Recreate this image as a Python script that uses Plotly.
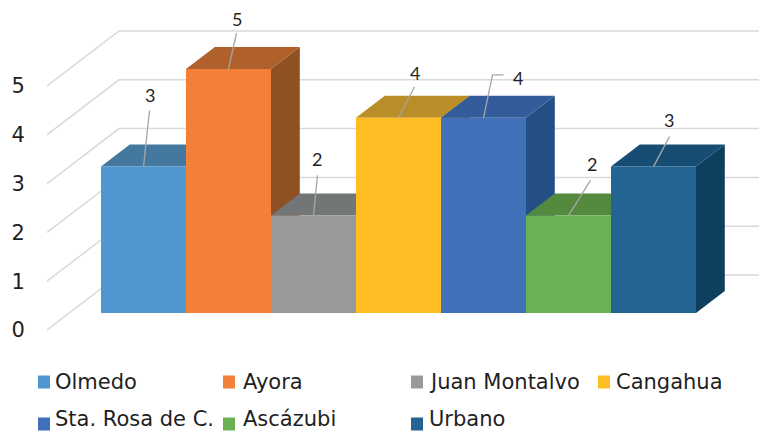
"""
Pseudo-3D column chart: the oblique projection is done here, the faces go
through Plotly's axes as filled scatter polygons and a bar trace.
"""

import plotly.graph_objects as go

CATEGORIES = ["Olmedo", "Ayora", "Juan Montalvo", "Cangahua", "Sta. Rosa de C.", "Ascázubi", "Urbano"]
VALUES = [3, 5, 2, 4, 4, 2, 3]
TICKS = [0, 1, 2, 3, 4, 5]

FRONT_COLORS = ["#5097D2", "#F28039", "#989A9A", "#FFBD24", "#4171B8", "#6CB155", "#246493"]
TOP_COLORS = ["#44789F", "#B0602B", "#737677", "#B98E28", "#335C9A", "#548A40", "#174D72"]
SIDE_COLORS = ["#3A6A90", "#8F5023", "#636566", "#96741F", "#234F86", "#47753A", "#0E3F5F"]

GRID_COLOR = "#D9D9D9"
LEADER_COLOR = "#A6A6A6"
TEXT_COLOR = "#1F1F1F"
TICK_FONT = "DejaVu Sans, Arial, sans-serif"
LABEL_FONT = "Lato, Arial, sans-serif"

# The page keeps an 8 px body margin, so the figure is that much smaller
PAGE_MARGIN = 8
WIDTH, HEIGHT = 767 - PAGE_MARGIN, 432 - PAGE_MARGIN
PLOT_LEFT = 47
PX_PER_CAT = 85
PX_PER_UNIT = 48.8
ORIGIN_PX = (78.75, 330)  # left edge of category 0 and value 0, depth 0
WALL_DX, WALL_DY = 72, 55  # floor depth in px
BAR_D0, BAR_D1 = 17 / 55, 39 / 55

# Pixel offsets from the middle of each bar's front top edge
LEADER_PATHS = [
    [(0, 0), (6, -56)],
    [(0, 0), (8, -36)],
    [(0, 0), (4, -40)],
    [(0, 0), (16, -31)],
    [(0, 0), (9, -43), (20, -43)],
    [(0, 0), (22, -35)],
    [(0, 0), (16, -30)],
]
LABEL_OFFSETS = [(6, -72), (8, -50), (3, -56), (16, -45), (34, -40), (23, -51), (15, -47)]

# Legend layout in page pixels: swatch left, text left, row centre
LEGEND_SLOTS = [(38, 53, 382), (223, 241, 382), (411, 427, 382), (598, 614, 382),
                (38, 53, 419), (223, 241, 419), (411, 427, 419)]


def x_from_px(px):
    return (px - ORIGIN_PX[0]) / PX_PER_CAT - 0.5


def y_from_px(py):
    return (ORIGIN_PX[1] - py) / PX_PER_UNIT


def paper_x(px):
    return (px - PLOT_LEFT) / (767 - PLOT_LEFT)


def project(x, v, depth):
    return x + depth * WALL_DX / PX_PER_CAT, v + depth * WALL_DY / PX_PER_UNIT


def polygon(points, color, yaxis="y"):
    return go.Scatter(
        x=[p[0] for p in points],
        y=[p[1] for p in points],
        mode="lines",
        fill="toself",
        fillcolor=color,
        line=dict(width=0, color=color),
        hoverinfo="skip",
        showlegend=False,
        yaxis=yaxis,
    )


fig = go.Figure()

# Grid on the side wall and the back wall
x_left = x_from_px(PLOT_LEFT)
x_right = x_from_px(790)
for tick in TICKS:
    pts = [project(x_left, tick, 0), project(x_left, tick, 1), (x_right, project(x_left, tick, 1)[1])]
    fig.add_trace(
        go.Scatter(
            x=[p[0] for p in pts],
            y=[p[1] for p in pts],
            mode="lines",
            line=dict(color=GRID_COLOR, width=1.5),
            hoverinfo="skip",
            showlegend=False,
        )
    )

# Side and top faces, left to right
for i, value in enumerate(VALUES):
    lo, hi = i - 0.5, i + 0.5
    side = [project(hi, 0, BAR_D0), project(hi, value, BAR_D0), project(hi, value, BAR_D1), project(hi, 0, BAR_D1)]
    top = [project(lo, value, BAR_D0), project(hi, value, BAR_D0), project(hi, value, BAR_D1), project(lo, value, BAR_D1)]
    fig.add_trace(polygon(side, SIDE_COLORS[i]))
    fig.add_trace(polygon(top, TOP_COLORS[i]))

# Front faces on an overlaid subplot so they sit above the scatter layer
front_x = [project(i, 0, BAR_D0)[0] for i in range(len(VALUES))]
front_base = project(0, 0, BAR_D0)[1]
fig.add_trace(
    go.Bar(
        x=front_x,
        y=VALUES,
        base=[front_base] * len(VALUES),
        width=1,
        marker=dict(color=FRONT_COLORS, line=dict(width=0)),
        hoverinfo="skip",
        showlegend=False,
        xaxis="x2",
        yaxis="y2",
    )
)

# Leader lines and data labels
annotations = []
for i, value in enumerate(VALUES):
    ax, ay = project(i, value, BAR_D0)
    fig.add_trace(
        go.Scatter(
            x=[ax + dx / PX_PER_CAT for dx, _ in LEADER_PATHS[i]],
            y=[ay - dy / PX_PER_UNIT for _, dy in LEADER_PATHS[i]],
            mode="lines",
            line=dict(color=LEADER_COLOR, width=1.3),
            hoverinfo="skip",
            showlegend=False,
            xaxis="x2",
            yaxis="y2",
        )
    )
    dx, dy = LABEL_OFFSETS[i]
    annotations.append(
        dict(
            x=ax + dx / PX_PER_CAT,
            y=ay - dy / PX_PER_UNIT,
            xref="x2",
            yref="y2",
            text=str(value),
            showarrow=False,
            font=dict(family=LABEL_FONT, size=18, color=TEXT_COLOR),
        )
    )

# Legend
shapes = []
for name, color, (swatch_x, text_x, row_y) in zip(CATEGORIES, FRONT_COLORS, LEGEND_SLOTS):
    swatch_y = row_y + 5 if row_y > 400 else row_y
    shapes.append(
        dict(
            type="rect",
            xref="paper",
            yref="y",
            x0=paper_x(swatch_x),
            x1=paper_x(swatch_x + 12),
            y0=y_from_px(swatch_y - 6.5),
            y1=y_from_px(swatch_y + 6.5),
            fillcolor=color,
            line=dict(width=0),
        )
    )
    annotations.append(
        dict(
            x=x_from_px(text_x),
            y=y_from_px(row_y),
            xref="x",
            yref="y",
            xanchor="left",
            yanchor="middle",
            text=name,
            showarrow=False,
            font=dict(family=TICK_FONT, size=21, color=TEXT_COLOR),
        )
    )

# Axes run in the reference's page pixels, less the body margin
x_range = [x_from_px(PLOT_LEFT), x_from_px(767)]
y_range = [y_from_px(432), y_from_px(PAGE_MARGIN)]

fig.update_layout(
    width=WIDTH,
    height=HEIGHT,
    autosize=False,
    template="plotly_white",
    paper_bgcolor="#FFFFFF",
    plot_bgcolor="rgba(0,0,0,0)",
    margin=dict(l=PLOT_LEFT - PAGE_MARGIN, r=0, t=0, b=0),
    showlegend=False,
    hovermode=False,
    barmode="overlay",
    shapes=shapes,
    annotations=annotations,
    xaxis=dict(visible=False, range=x_range, fixedrange=True),
    yaxis=dict(
        range=y_range,
        tickvals=TICKS,
        showgrid=False,
        zeroline=False,
        showline=False,
        ticks="outside",
        ticklen=17,
        tickcolor="rgba(0,0,0,0)",
        tickfont=dict(family=TICK_FONT, size=21, color=TEXT_COLOR),
        fixedrange=True,
    ),
    xaxis2=dict(visible=False, range=x_range, overlaying="x", fixedrange=True),
    yaxis2=dict(visible=False, range=y_range, overlaying="y", fixedrange=True),
)

fig.write_html("out.html", config=dict(displayModeBar=False))
